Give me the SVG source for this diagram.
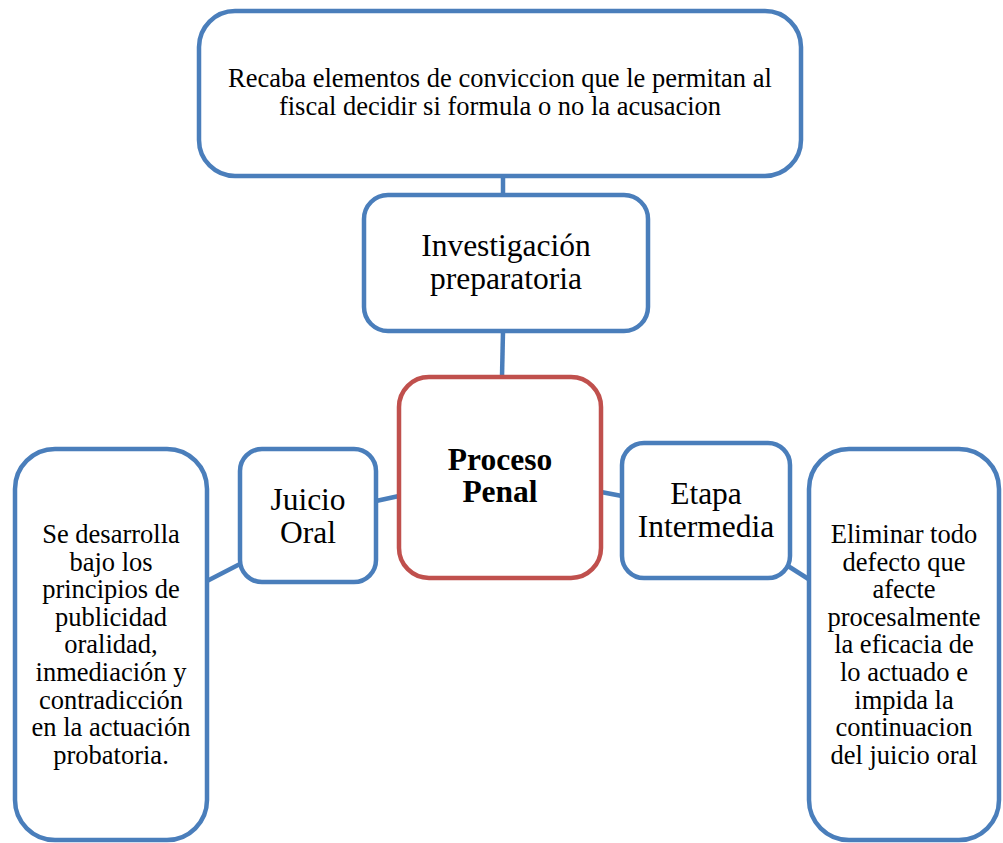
<svg xmlns="http://www.w3.org/2000/svg" width="1003" height="843" viewBox="0 0 1003 843">
<style>
.box{fill:#fff;stroke:#4a7ebb;stroke-width:4.5}
.main{fill:#fff;stroke:#c0504d;stroke-width:4.5}
.conn{stroke:#4a7ebb;stroke-width:4.5;fill:none}
.s{font-size:26.5px}
.l{font-size:31.5px}
.b{font-size:31.5px;font-weight:bold}
</style>
<rect width="1003" height="843" fill="#fff"/>
<g id="connectors">
<line class="conn" x1="503" y1="176" x2="503" y2="195"/>
<line class="conn" x1="503" y1="331" x2="502" y2="377"/>
<line class="conn" x1="376" y1="501" x2="399" y2="496"/>
<line class="conn" x1="240" y1="564" x2="207" y2="581"/>
<line class="conn" x1="601" y1="492" x2="622" y2="496"/>
<line class="conn" x1="788" y1="566" x2="810" y2="580"/>
</g>
<g font-family="Liberation Serif, Times New Roman, serif" fill="#000" text-anchor="middle">
<g id="top">
<rect class="box" x="199" y="11" width="602" height="165" rx="36"/>
<text class="s" x="500" y="87">Recaba elementos de conviccion que le permitan al</text>
<text class="s" x="500" y="115">fiscal decidir si formula o no la acusacion</text>
</g>
<g id="investigacion">
<rect class="box" x="364" y="195" width="284" height="136" rx="24"/>
<text class="l" x="506" y="256">Investigación</text>
<text class="l" x="506" y="289">preparatoria</text>
</g>
<g id="proceso">
<rect class="main" x="399" y="377" width="202" height="201" rx="30"/>
<text class="b" x="500" y="470">Proceso</text>
<text class="b" x="500" y="502">Penal</text>
</g>
<g id="juicio">
<rect class="box" x="240" y="449" width="136" height="133" rx="22"/>
<text class="l" x="308" y="510">Juicio</text>
<text class="l" x="308" y="543">Oral</text>
</g>
<g id="etapa">
<rect class="box" x="622" y="443" width="168" height="135" rx="22"/>
<text class="l" x="706" y="504">Etapa</text>
<text class="l" x="706" y="537">Intermedia</text>
</g>
<g id="izquierda">
<rect class="box" x="15" y="449" width="192" height="391" rx="40"/>
<text class="s" x="111" y="543">Se desarrolla</text>
<text class="s" x="111" y="571">bajo los</text>
<text class="s" x="111" y="598">principios de</text>
<text class="s" x="111" y="626">publicidad</text>
<text class="s" x="111" y="653">oralidad,</text>
<text class="s" x="111" y="681">inmediación y</text>
<text class="s" x="111" y="709">contradicción</text>
<text class="s" x="111" y="736">en la actuación</text>
<text class="s" x="111" y="764">probatoria.</text>
</g>
<g id="derecha">
<rect class="box" x="809" y="449" width="190" height="391" rx="40"/>
<text class="s" x="904" y="543">Eliminar todo</text>
<text class="s" x="904" y="571">defecto que</text>
<text class="s" x="904" y="598">afecte</text>
<text class="s" x="904" y="626">procesalmente</text>
<text class="s" x="904" y="653">la eficacia de</text>
<text class="s" x="904" y="681">lo actuado e</text>
<text class="s" x="904" y="709">impida la</text>
<text class="s" x="904" y="736">continuacion</text>
<text class="s" x="904" y="764">del juicio oral</text>
</g>
</g>
</svg>
